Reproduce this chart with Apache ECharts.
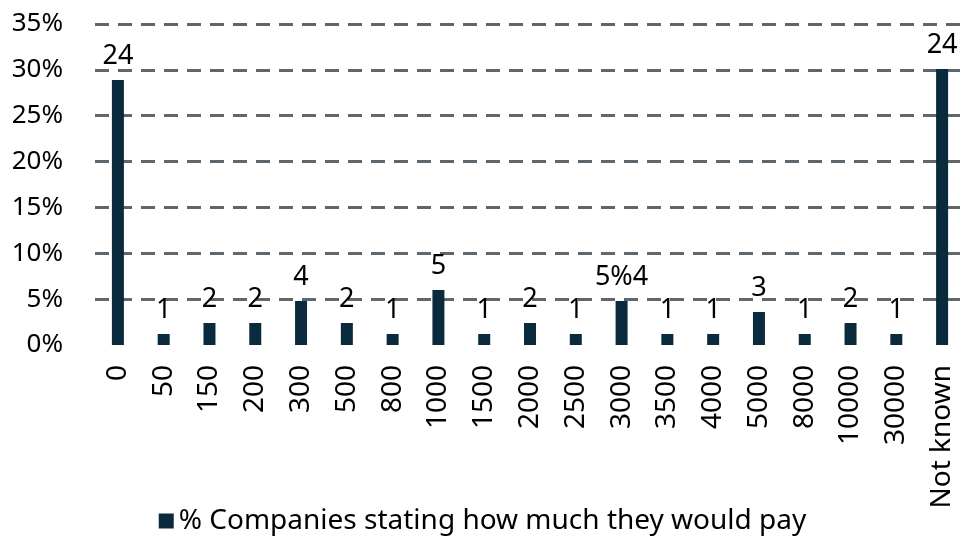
<!DOCTYPE html>
<html>
<head>
<meta charset="utf-8">
<script src="https://cdn.jsdelivr.net/npm/echarts@6/dist/echarts.min.js"></script>
<style>html,body{margin:0;padding:0;background:#fff}#c{width:965px;height:540px}</style>
</head>
<body>
<div id="c"></div>
<script>
const categories = ["0","50","150","200","300","500","800","1000","1500","2000","2500","3000","3500","4000","5000","8000","10000","30000","Not known"];
const percentValues = [28.9,1.2,2.4,2.4,4.8,2.4,1.2,6.0,1.2,2.4,1.2,4.8,1.2,1.2,3.6,1.2,2.4,1.2,30.1];
const barLabels = ["24","1","2","2","4","2","1","5","1","2","1","5%4","1","1","3","1","2","1","24"];
const yTicks = [0,5,10,15,20,25,30,35];
const seriesName = "% Companies stating how much they would pay";

const FONT = "'Noto Sans', sans-serif";
const chart = echarts.init(document.getElementById('c'), null, {renderer:'canvas'});
chart.setOption({
  animation:false,
  textStyle:{fontFamily:FONT},
  grid:{left:95,right:0,top:24,bottom:195,containLabel:false},
  legend:{
    bottom:0,left:'center',icon:'rect',itemWidth:15,itemHeight:15,itemGap:6,
    textStyle:{fontSize:28,color:'#000',fontFamily:FONT},
    data:[seriesName]
  },
  xAxis:{
    type:'category',data:categories,
    axisLine:{show:false},axisTick:{show:false},
    axisLabel:{rotate:90,fontSize:28,color:'#000',margin:20,interval:0,fontFamily:FONT}
  },
  yAxis:{
    type:'value',min:yTicks[0],max:yTicks[yTicks.length-1],interval:5,
    axisLine:{show:false},axisTick:{show:false},
    axisLabel:{formatter:'{value}%',fontSize:26,color:'#000',margin:32,fontFamily:FONT},
    splitLine:{show:true,lineStyle:{color:['rgba(0,0,0,0)','#5f676e','#5f676e','#5f676e','#5f676e','#5f676e','#5f676e','#5f676e'],width:3,type:[14,9]}}
  },
  series:[{
    name:seriesName,type:'bar',barWidth:12,
    data:percentValues,
    itemStyle:{color:'#0a2b3d'},
    label:{show:true,position:'top',distance:10,fontSize:27,color:'#000',fontFamily:FONT,
      formatter:p=>barLabels[p.dataIndex]}
  }]
});
</script>
</body>
</html>
